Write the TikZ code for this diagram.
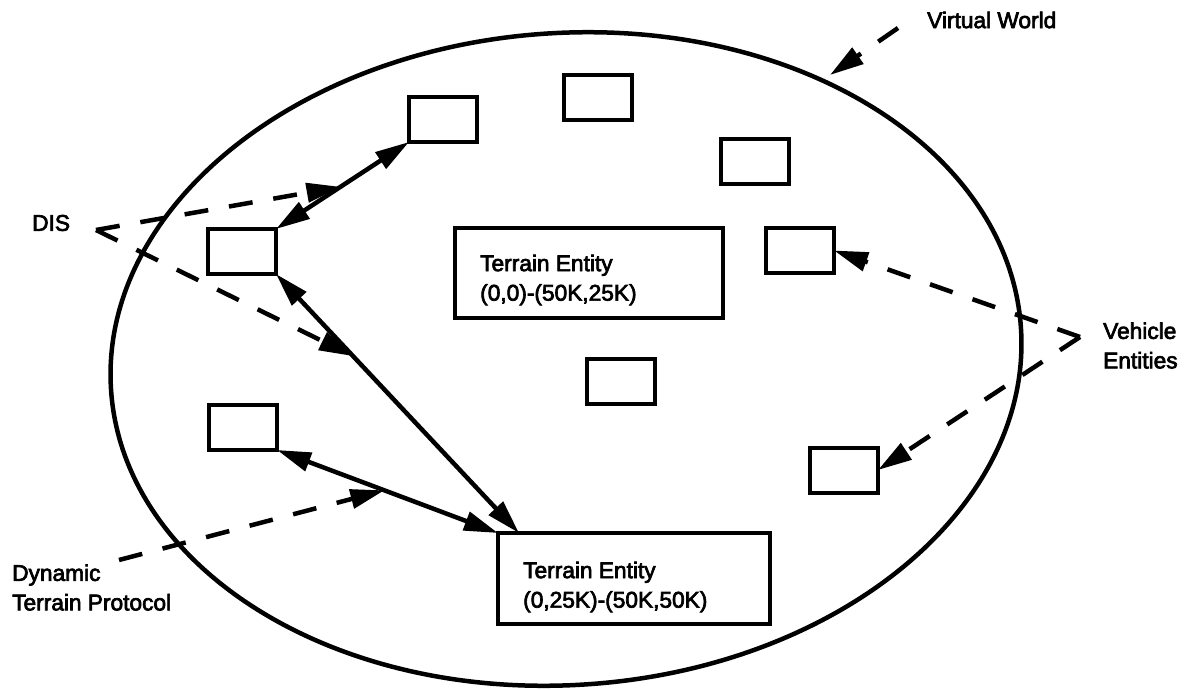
\documentclass[tikz,border=0pt]{standalone}
\usepackage{fontspec}
\setmainfont{Liberation Sans}
\newfontfamily\heavyfont{Liberation Sans}[UprightFeatures={FakeBold=3}]
\usetikzlibrary{arrows.meta,calc}
\begin{document}
\begin{tikzpicture}[x=1pt,y=-1pt,
  box/.style={draw, line width=4pt, minimum width=68pt, minimum height=45pt, inner sep=0pt, outer sep=0pt},
  bigbox/.style={draw, line width=4pt, minimum width=270pt, minimum height=90pt, inner sep=0pt, outer sep=0pt},
  lbl/.style={font=\heavyfont\fontsize{22.7}{29.5}\selectfont, inner sep=0pt, align=left, anchor=west},
  tipA/.tip={Triangle[length=34pt,width=19pt]},
  link/.style={line width=4.5pt, tipA-tipA},
  dsh/.style={line width=4.5pt, dash pattern=on 24pt off 21pt, -tipA},
]
\useasboundingbox (0,0) rectangle (1186,690);

% virtual world ellipse
\draw[line width=4.5pt, rotate around={4:(566,359)}] (566,359) ellipse [x radius=456, y radius=326];

% small boxes
\node[box] (A) at (443,119.5) {};
\node[box] (B) at (242,251.5) {};
\node[box] (C) at (598,97.5) {};
\node[box] (D) at (755,161.5) {};
\node[box] (E) at (800,250.5) {};
\node[box] (F) at (844,470) {};
\node[box] (G) at (621,381.5) {};
\node[box] (H) at (243,427.5) {};

% terrain entity boxes
\node[bigbox, minimum width=268pt] (T1) at (589,273) {};
\node[lbl] (T1txt) at ($(T1.west)+(25,7)$) {Terrain Entity\\(0,0)-(50K,25K)};
\node[bigbox, minimum width=272pt, minimum height=91pt] (T2) at (634,578.5) {};
\node[lbl] (T2txt) at ($(T2.west)+(25,8.5)$) {Terrain Entity\\(0,25K)-(50K,50K)};

% solid double arrows
\coordinate (T2in) at ($(T2.north west)+(21,0)$);
\draw[link] (A.south west) -- (B.north east) coordinate[pos=0.515] (p1);
\draw[link] (B.south east) -- (T2in) coordinate[pos=0.317] (p2);
\draw[link] (H.south east) -- (T2.north west) coordinate[pos=0.486] (p3);

% labels
\node[lbl] (vwtxt) at (927,20) {Virtual World};
\node[lbl] (distxt) at (32,223) {DIS};
\node[lbl] (dtptxt) at (12,587.5) {Dynamic\\Terrain Protocol};
\node[lbl] (vetxt) at (1103,345.5) {Vehicle\\Entities};

% dashed pointers
\coordinate (vw) at (898,28);
\coordinate (vwend) at (830,75);
\coordinate (dis) at (96,230);
\coordinate (dtp) at (119,560);
\coordinate (veh) at (1080,337);

\draw[dsh] (vw) -- (vwend);
\draw[dsh] (dis) -- (p1);
\draw[dsh] (dis) -- (p2);
\draw[dsh] (dtp) -- (p3);
\draw[dsh] (veh) -- (E.east);
\draw[dsh] (veh) -- (F.east);
\end{tikzpicture}
\end{document}
